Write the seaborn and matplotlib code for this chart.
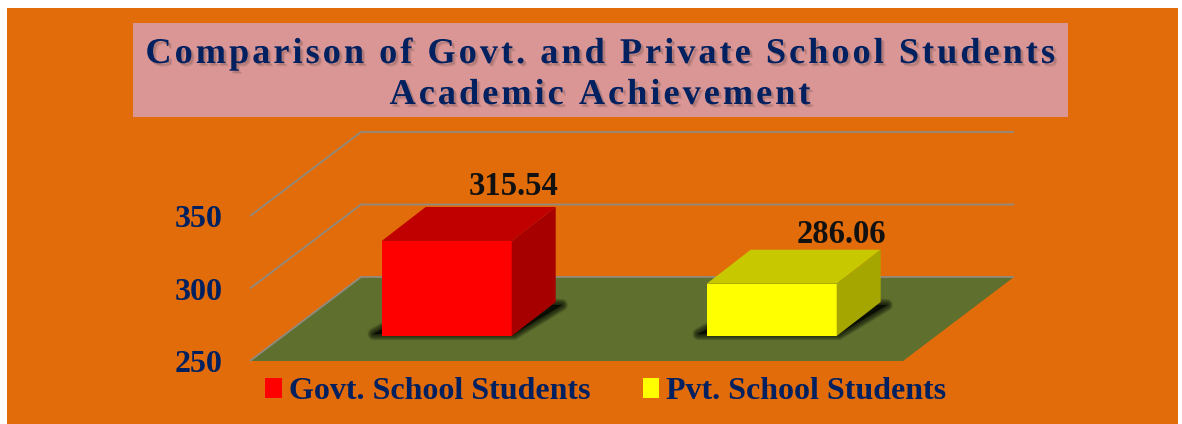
import matplotlib
matplotlib.use("Agg")
import matplotlib.pyplot as plt
import matplotlib.patheffects as pe
from matplotlib.patches import Rectangle
import pandas as pd
import seaborn as sns

# === DATA ===
schools = ["Govt. School Students", "Pvt. School Students"]
scores = [315.54, 286.06]
y_ticks = [250, 300, 350]
title_lines = ["Comparison of Govt. and Private School Students", "Academic Achievement"]

# === STYLE ===
W, H = 1182, 424
ORANGE = "#E36C0A"
NAVY = "#002060"
FLOOR = "#5F702E"
GRID = "#8F8A80"
BOX = "#D99694"
FRONT = ["#FF0000", "#FFFF00"]
TOP = ["#C00000", "#C8C800"]
SIDE = ["#A60000", "#A6A600"]
HAIR = "\u200a"

sns.set_style("white")
plt.rcParams["font.family"] = ["Liberation Serif", "DejaVu Serif"]
plt.rcParams["font.weight"] = "bold"

fig = plt.figure(figsize=(W / 100, H / 100), dpi=100, facecolor="white")


def fig_rect(x0, y0, x1, y1, color):
    # pixel box from the top left corner
    fig.add_artist(Rectangle((x0 / W, 1 - y1 / H), (x1 - x0) / W, (y1 - y0) / H,
                             transform=fig.transFigure, color=color, lw=0, zorder=-5))


fig_rect(7, 8, 1178, 424, ORANGE)
fig_rect(133, 23, 1068, 117, BOX)

# === Title ===
shadow = [pe.SimplePatchShadow(offset=(2.4, -2.4), shadow_rgbFace="black", alpha=0.07),
          pe.SimplePatchShadow(offset=(1.6, -1.6), shadow_rgbFace="black", alpha=0.13),
          pe.Normal()]
for line, base in zip(title_lines, [63, 104]):
    fig.text(600 / W, 1 - base / H, HAIR.join(line), ha="center", va="baseline", fontsize=26.1,
             color=NAVY, path_effects=shadow)

# === Wall and floor, value axis runs along the front edge ===
ax_wall = fig.add_axes([250 / W, 1 - 361 / H, 653 / W, 145 / H], facecolor="none")
ax_wall.set_xlim(0, 1)
ax_wall.set_ylim(y_ticks[0], y_ticks[-1])
wall_dx = 111 / 653
wall_dy = 84 * 100 / 145
ax_wall.fill([0, 1, 1 + wall_dx, wall_dx],
             [y_ticks[0], y_ticks[0], y_ticks[0] + wall_dy, y_ticks[0] + wall_dy],
             color=FLOOR, lw=0, clip_on=False, zorder=1)
for tick in y_ticks:
    ax_wall.plot([0, wall_dx, 1 + wall_dx], [tick, tick + wall_dy, tick + wall_dy],
                 color=GRID, lw=1.3, clip_on=False, zorder=2, solid_capstyle="butt")
ax_wall.set_xticks([])
ax_wall.set_yticks(y_ticks)
ax_wall.tick_params(axis="y", length=0, pad=20, labelsize=23, labelcolor=NAVY)
sns.despine(ax=ax_wall, left=True, bottom=True)

# === Bars, front faces come from seaborn ===
# the bar axes starts at the bars' foot, so the bars are cut at 250 there
foot = 336
px_per_unit = 1.45
px_per_cat = 325
ax = fig.add_axes([0, 1 - foot / H, 1, foot / H], facecolor="none")
df = pd.DataFrame({"school": schools, "score": scores})
sns.barplot(data=df, x="school", y="score", hue="school", palette=FRONT, hue_order=schools,
            width=0.4, saturation=1, dodge=False, legend=True, linewidth=0, ax=ax, zorder=3)
ax.set_xlim(-446.7 / px_per_cat, (W - 446.7) / px_per_cat)
ax.set_ylim(y_ticks[0], y_ticks[0] + foot / px_per_unit)
ax.axis("off")


def ux(px):
    return px / px_per_cat


def uy(px):
    return px / px_per_unit


bar_dx, bar_dy = 44, 34
bars = [p for p in ax.patches if p.get_height() > 0]
for i, bar in enumerate(bars):
    x0, x1 = bar.get_x(), bar.get_x() + bar.get_width()
    top = bar.get_height()
    bx, by = ux(bar_dx), uy(bar_dy)
    base = y_ticks[0]

    # soft shadow on the floor, stacked strokes fade it out
    sx = [x0 - ux(8), x1 + ux(2), x1 + bx + ux(6), x0 + bx]
    sy = [base + uy(2), base + uy(2), base + by - uy(3), base + by - uy(3)]
    for lw in [9, 8, 7, 6, 5, 4, 3, 2, 1]:
        ax.fill(sx, sy, facecolor="black", edgecolor="black", alpha=0.11, lw=lw,
                joinstyle="round", clip_on=False, zorder=2)

    ax.fill([x0, x1, x1 + bx, x0 + bx], [top, top, top + by, top + by],
            color=TOP[i], lw=0, clip_on=False, zorder=3)
    ax.fill([x1, x1 + bx, x1 + bx, x1], [base, base + by, top + by, top],
            color=SIDE[i], lw=0, clip_on=False, zorder=3)
    ax.annotate(f"{scores[i]:.2f}", (x1, top + by), xytext=(1 if i == 0 else 3.5, 8.7 if i == 0 else 5),
                textcoords="offset points", ha="center", va="baseline",
                fontsize=23.5, color="#111111", annotation_clip=False, zorder=5)

# === Legend ===
sns.move_legend(ax, "lower left", bbox_to_anchor=(265 / W, 1 - 406 / H), bbox_transform=fig.transFigure,
                ncol=2, frameon=False, title=None, fontsize=23, labelcolor=NAVY,
                handlelength=0.53, handleheight=0.6, handletextpad=0.22, columnspacing=1.63,
                borderpad=0, borderaxespad=0)

fig.savefig("out.png", dpi=100, facecolor="white")
